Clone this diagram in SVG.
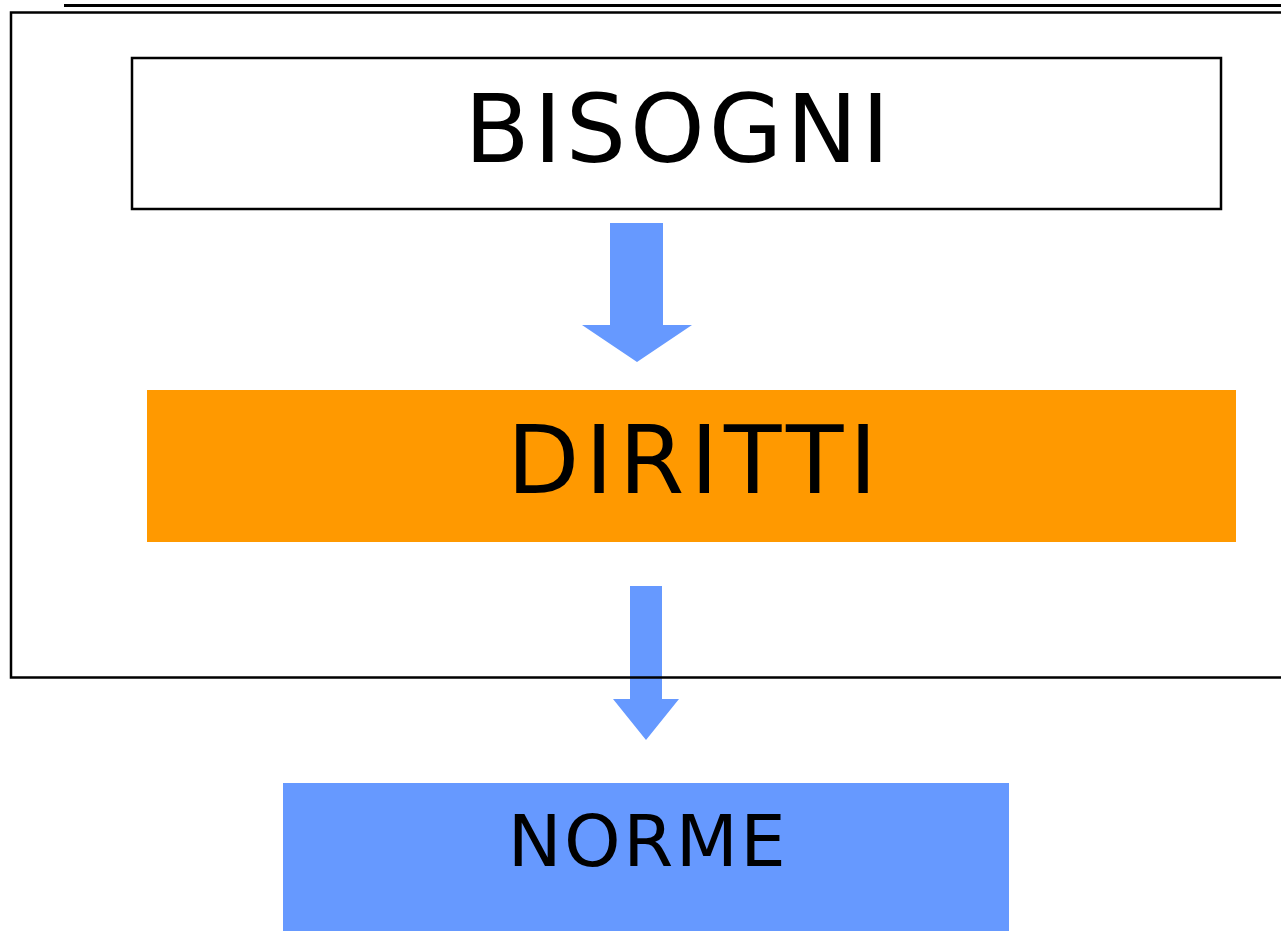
<svg xmlns="http://www.w3.org/2000/svg" width="1281" height="931" viewBox="0 0 1281 931">
<style>
.lbl{font-family:"DejaVu Sans",Verdana,sans-serif;fill:#000;text-anchor:middle}
.arrow{fill:#6699FF}
</style>
<rect width="1281" height="931" fill="#fff"/>
<line x1="64" y1="5.5" x2="1281" y2="5.5" stroke="#000" stroke-width="3"/>
<g id="connectors">
<polygon class="arrow" points="610,223 663,223 663,325 692,325 637,362 582,325 610,325"/>
<polygon class="arrow" points="630,586 662,586 662,699 679,699 646,740 613,699 630,699"/>
</g>
<rect x="11" y="12.5" width="1290" height="665" fill="none" stroke="#000" stroke-width="2.5"/>
<g id="bisogni">
<rect x="132" y="58" width="1089" height="151" fill="#fff" stroke="#000" stroke-width="2.5"/>
<text class="lbl" x="679" y="162" font-size="95" letter-spacing="4">BISOGNI</text>
</g>
<g id="diritti">
<rect x="147" y="390" width="1089" height="152" fill="#FF9900"/>
<text class="lbl" x="695" y="493" font-size="94" letter-spacing="6">DIRITTI</text>
</g>
<g id="norme">
<rect x="283" y="783" width="726" height="150" fill="#6699FF"/>
<text class="lbl" x="648" y="866" font-size="72" letter-spacing="2.5">NORME</text>
</g>
</svg>
